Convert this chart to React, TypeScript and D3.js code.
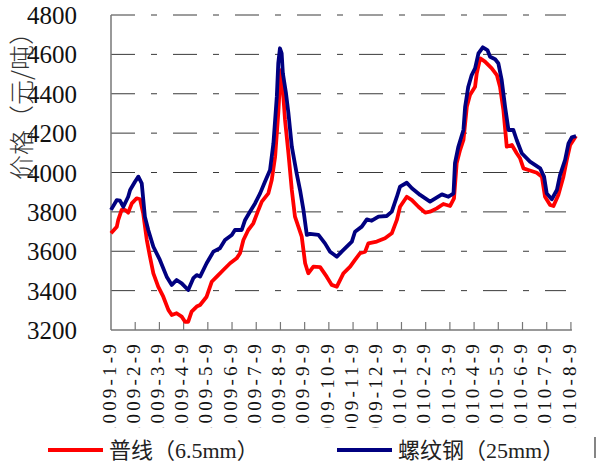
import * as d3 from "d3";
import { useEffect, useRef } from "react";

// month offset from 2009-1-9, price (yuan/ton)
const rebarT = [0, 0.24, 0.37, 0.51, 0.71, 0.79, 0.99, 1.13, 1.27, 1.4, 1.54, 1.75, 2.02, 2.3, 2.51, 2.71, 2.92, 3.19, 3.4, 3.54, 3.68, 3.95, 4.23, 4.5, 4.71, 4.99, 5.12, 5.4, 5.54, 5.74, 5.95, 6.16, 6.36, 6.57, 6.71, 6.85, 6.91, 6.98, 7.05, 7.1, 7.23, 7.33, 7.47, 7.67, 7.81, 7.95, 8.09, 8.22, 8.57, 8.84, 9.05, 9.33, 9.53, 9.95, 10.08, 10.36, 10.57, 10.77, 11.05, 11.39, 11.6, 11.81, 11.94, 12.22, 12.43, 12.77, 13.18, 13.67, 13.94, 14.15, 14.21, 14.35, 14.56, 14.63, 14.76, 14.9, 15.04, 15.18, 15.36, 15.55, 15.66, 15.87, 16.0, 16.14, 16.28, 16.42, 16.62, 16.76, 16.97, 17.31, 17.73, 17.89, 18.0, 18.21, 18.42, 18.55, 18.76, 18.9, 19.04, 19.21];
const rebarPrice = [3810, 3860, 3857, 3826, 3877, 3911, 3953, 3979, 3945, 3776, 3708, 3623, 3556, 3471, 3429, 3454, 3437, 3403, 3463, 3479, 3471, 3539, 3598, 3615, 3657, 3683, 3708, 3708, 3759, 3801, 3843, 3894, 3953, 4013, 4148, 4385, 4555, 4631, 4605, 4504, 4402, 4301, 4131, 3996, 3911, 3810, 3683, 3688, 3683, 3640, 3598, 3572, 3598, 3649, 3699, 3725, 3762, 3755, 3776, 3779, 3801, 3877, 3928, 3948, 3920, 3886, 3852, 3889, 3877, 3894, 4047, 4131, 4216, 4334, 4436, 4495, 4529, 4605, 4636, 4622, 4588, 4575, 4555, 4470, 4334, 4216, 4216, 4165, 4098, 4055, 4021, 3979, 3894, 3864, 3911, 3987, 4064, 4148, 4179, 4185];

const wireT = [0, 0.24, 0.3, 0.44, 0.58, 0.71, 0.86, 1.06, 1.2, 1.33, 1.48, 1.61, 1.75, 1.95, 2.16, 2.37, 2.51, 2.71, 2.92, 3.06, 3.19, 3.33, 3.54, 3.68, 3.95, 4.16, 4.37, 4.64, 4.92, 5.19, 5.33, 5.47, 5.67, 5.88, 6.09, 6.23, 6.5, 6.64, 6.78, 6.91, 7.01, 7.1, 7.19, 7.33, 7.47, 7.6, 7.74, 7.88, 8.02, 8.15, 8.36, 8.64, 8.91, 9.12, 9.33, 9.6, 9.88, 10.08, 10.29, 10.5, 10.63, 10.98, 11.32, 11.6, 11.81, 11.94, 12.22, 12.43, 12.7, 12.98, 13.18, 13.46, 13.73, 14.01, 14.17, 14.28, 14.42, 14.56, 14.7, 14.83, 15.04, 15.11, 15.25, 15.45, 15.73, 15.94, 16.07, 16.21, 16.35, 16.56, 16.76, 16.9, 17.04, 17.24, 17.59, 17.8, 17.93, 18.14, 18.28, 18.48, 18.69, 18.83, 18.97, 19.21];
const wirePrice = [3691, 3725, 3759, 3810, 3810, 3796, 3843, 3869, 3864, 3793, 3657, 3572, 3488, 3420, 3369, 3302, 3276, 3285, 3268, 3242, 3242, 3293, 3319, 3327, 3369, 3445, 3471, 3505, 3539, 3564, 3590, 3657, 3708, 3742, 3810, 3852, 3894, 3962, 4080, 4301, 4520, 4419, 4267, 4098, 3911, 3776, 3725, 3674, 3539, 3488, 3522, 3519, 3471, 3429, 3420, 3488, 3522, 3556, 3590, 3598, 3640, 3649, 3666, 3691, 3759, 3826, 3877, 3860, 3826, 3796, 3801, 3818, 3840, 3830, 3869, 4047, 4114, 4165, 4334, 4394, 4436, 4504, 4580, 4563, 4529, 4495, 4436, 4318, 4131, 4140, 4098, 4072, 4021, 4013, 3999, 3979, 3877, 3835, 3830, 3886, 3979, 4064, 4140, 4185];

const monthLabels = ["2009-1-9", "2009-2-9", "2009-3-9", "2009-4-9", "2009-5-9", "2009-6-9", "2009-7-9", "2009-8-9", "2009-9-9", "2009-10-9", "2009-11-9", "2009-12-9", "2010-1-9", "2010-2-9", "2010-3-9", "2010-4-9", "2010-5-9", "2010-6-9", "2010-7-9", "2010-8-9"];
const yTicks = [3200, 3400, 3600, 3800, 4000, 4200, 4400, 4600, 4800];
const seriesNames = ["普线（6.5mm）", "螺纹钢（25mm）"];
const yTitle = "价格（元/吨）";

const W = 603;
const H = 466;
const serif = '"Liberation Serif", "Times New Roman", Times, serif';
const mixed = '"Liberation Serif", "Times New Roman", "Noto Sans CJK SC", serif';

export default function App() {
  const ref = useRef<SVGSVGElement>(null);

  useEffect(() => {
    const svg = d3.select(ref.current);
    svg.selectAll("*").remove();

    const x = d3.scaleLinear().domain([0, 19.21]).range([111, 576]);
    const y = d3.scaleLinear().domain([3200, 4800]).range([330, 15]);

    // dashed gridlines
    svg
      .append("g")
      .selectAll("line")
      .data(yTicks.slice(1))
      .join("line")
      .attr("x1", x(0))
      .attr("x2", 566)
      .attr("y1", (d) => y(d))
      .attr("y2", (d) => y(d))
      .attr("stroke", "#3a3a3a")
      .attr("stroke-width", 1)
      .attr("stroke-dasharray", "24,16,6,16");

    // y tick labels
    svg
      .append("g")
      .selectAll("text")
      .data(yTicks)
      .join("text")
      .attr("x", 77)
      .attr("y", (d) => y(d))
      .attr("dy", "0.36em")
      .attr("text-anchor", "end")
      .attr("font-family", serif)
      .attr("font-size", 25)
      .attr("fill", "#111")
      .text((d) => d);

    // y title
    svg
      .append("text")
      .attr("transform", `translate(22,100) rotate(-90)`)
      .attr("text-anchor", "middle")
      .attr("dy", "0.36em")
      .attr("font-family", '"Noto Sans CJK SC", sans-serif')
      .attr("font-weight", 300)
      .attr("font-size", 25)
      .attr("fill", "#333")
      .text(yTitle);

    // axes
    svg
      .append("line")
      .attr("x1", x(0))
      .attr("x2", x(0))
      .attr("y1", y(4800))
      .attr("y2", y(3200))
      .attr("stroke", "#777")
      .attr("stroke-width", 1.5);
    svg
      .append("line")
      .attr("x1", x(0))
      .attr("x2", x(19) + 1)
      .attr("y1", y(3200))
      .attr("y2", y(3200))
      .attr("stroke", "#777")
      .attr("stroke-width", 1.5);
    svg
      .append("g")
      .selectAll("line")
      .data(d3.range(1, 20))
      .join("line")
      .attr("x1", (d) => x(d))
      .attr("x2", (d) => x(d))
      .attr("y1", y(3200))
      .attr("y2", y(3200) - 8)
      .attr("stroke", "#777")
      .attr("stroke-width", 1.2);

    // x labels, clipped at the bottom
    svg
      .append("clipPath")
      .attr("id", "xlab")
      .append("rect")
      .attr("x", 0)
      .attr("y", 332)
      .attr("width", W)
      .attr("height", 96);
    svg
      .append("g")
      .attr("clip-path", "url(#xlab)")
      .selectAll("text")
      .data(monthLabels)
      .join("text")
      .attr("transform", (_, i) => `translate(${x(i) - 2},341) rotate(-90)`)
      .attr("text-anchor", "end")
      .attr("dy", "0.35em")
      .attr("font-family", serif)
      .attr("font-size", 19)
      .attr("letter-spacing", 3.2)
      .attr("fill", "#111")
      .text((d) => d);

    const line = d3
      .line<[number, number]>()
      .x((d) => x(d[0]))
      .y((d) => y(d[1]));

    const wire = wireT.map((t, i) => [t, wirePrice[i]] as [number, number]);
    const rebar = rebarT.map((t, i) => [t, rebarPrice[i]] as [number, number]);

    svg
      .append("path")
      .attr("d", line(wire))
      .attr("fill", "none")
      .attr("stroke", "#ff0000")
      .attr("stroke-width", 3.8)
      .attr("stroke-linejoin", "round");
    svg
      .append("path")
      .attr("d", line(rebar))
      .attr("fill", "none")
      .attr("stroke", "#000080")
      .attr("stroke-width", 3.8)
      .attr("stroke-linejoin", "round");

    // legend
    const legend = [
      { name: seriesNames[0], color: "#ff0000", x0: 48, x1: 103 },
      { name: seriesNames[1], color: "#000080", x0: 337, x1: 392 },
    ];
    const lg = svg.append("g").selectAll("g").data(legend).join("g");
    lg.append("line")
      .attr("x1", (d) => d.x0)
      .attr("x2", (d) => d.x1)
      .attr("y1", 450)
      .attr("y2", 450)
      .attr("stroke", (d) => d.color)
      .attr("stroke-width", 3.8);
    lg.append("text")
      .attr("x", (d) => d.x1 + 6)
      .attr("y", 450)
      .attr("dy", "0.36em")
      .attr("font-family", mixed)
      .attr("font-size", 22)
      .attr("fill", "#222")
      .text((d) => d.name);

    svg
      .append("line")
      .attr("x1", 595)
      .attr("x2", 595)
      .attr("y1", 437)
      .attr("y2", 458)
      .attr("stroke", "#333")
      .attr("stroke-width", 1.2);
  }, []);

  return (
    <svg
      ref={ref}
      width={W}
      height={H}
      viewBox={`0 0 ${W} ${H}`}
      style={{ position: "absolute", left: 0, top: 0, background: "#fff" }}
    />
  );
}
